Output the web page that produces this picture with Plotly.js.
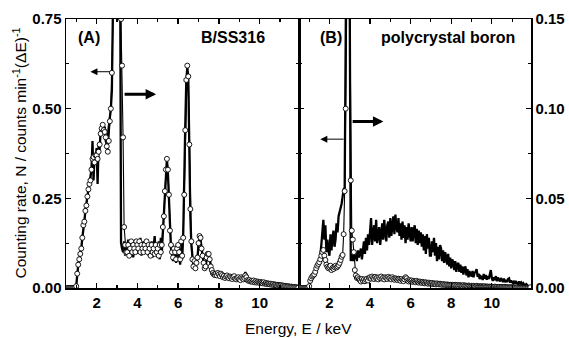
<!DOCTYPE html>
<html>
<head>
<meta charset="utf-8">
<script src="https://cdn.plot.ly/plotly-3.0.1.min.js"></script>
<style>html,body{margin:0;padding:0;background:#fff;}#chart{width:569px;height:338px;}</style>
</head>
<body>
<div id="chart"></div>
<script>
// Energy sampling (keV): first channel and channel width
const E_START = 0.5;
const E_STEP = 0.05;

// Panel A (B/SS316): open circles, left axis (0-0.75)
const circlesA = [
  0,0,0,0,0,0,0,0,0,0,
  0.005,0.04,0.065,0.08,0.095,0.11,0.14,0.175,0.185,0.215,
  0.23,0.255,0.275,0.29,0.30,0.33,0.36,0.365,0.35,0.37,
  0.37,0.36,0.38,0.40,0.43,0.445,0.455,0.44,0.435,0.42,
  0.395,0.38,0.41,0.465,0.50,0.60,0.85,1.05,1.2,1.3,
  1.3,1.2,1.05,0.9,0.75,0.62,0.42,0.17,0.12,0.10,
  0.10,0.12,0.09,0.11,0.13,0.10,0.12,0.11,0.10,0.13,
  0.12,0.11,0.13,0.10,0.12,0.11,0.10,0.12,0.11,0.13,
  0.10,0.12,0.11,0.09,0.12,0.10,0.11,0.095,0.12,0.10,
  0.11,0.09,0.12,0.10,0.12,0.17,0.20,0.27,0.33,0.36,
  0.33,0.26,0.16,0.12,0.10,0.085,0.11,0.10,0.08,0.11,
  0.12,0.10,0.08,0.13,0.09,0.14,0.26,0.44,0.58,0.62,
  0.59,0.40,0.22,0.13,0.08,0.06,0.075,0.055,0.07,0.085,
  0.125,0.145,0.14,0.11,0.09,0.07,0.055,0.06,0.085,0.095,
  0.095,0.08,0.06,0.05,0.042,0.038,0.036,0.04,0.035,0.042,
  0.038,0.033,0.04,0.036,0.03,0.034,0.028,0.032,0.035,0.03,
  0.027,0.032,0.029,0.025,0.03,0.033,0.026,0.024,0.028,0.03,
  0.025,0.022,0.03,0.027,0.024,0.028,0.035,0.03,0.022,0.02,
  0.022,0.018,0.02,0.017,0.021,0.016,0.019,0.015,0.018,0.016,
  0.014,0.017,0.015,0.013,0.016,0.012,0.014,0.011,0.013,0.012,
  0.01,0.012,0.009,0.011,0.008,0.01,0.009,0.007,0.009,0.008,
  0.007,0.008,0.006,0.007,0.005,0.006,0.005,0.004,0.005,0.004,
  0.003,0.004,0.003,0.002,0.003,0.002,0.002,0.001,0.001
];

// Panel A: thick line, right axis (0-0.15)
const lineA = [
  0,0,0,0,0,0,0,0,0,0,
  0.001,0.008,0.013,0.016,0.019,0.022,0.028,0.035,0.037,0.043,
  0.046,0.051,0.055,0.058,0.062,0.066,0.082,0.06,0.074,0.07,
  0.078,0.058,0.08,0.077,0.088,0.09,0.092,0.086,0.09,0.082,
  0.08,0.085,0.09,0.094,0.10,0.11,0.25,0.32,0.33,0.33,
  0.33,0.32,0.30,0.20,0.025,0.022,0.02,0.026,0.018,0.024,
  0.02,0.027,0.018,0.024,0.021,0.026,0.017,0.025,0.022,0.027,
  0.019,0.024,0.021,0.028,0.018,0.023,0.026,0.019,0.024,0.021,
  0.027,0.018,0.023,0.02,0.026,0.017,0.024,0.029,0.019,0.025,
  0.017,0.026,0.016,0.028,0.02,0.03,0.04,0.046,0.062,0.072,
  0.064,0.05,0.03,0.022,0.02,0.015,0.023,0.019,0.014,0.02,
  0.024,0.018,0.013,0.022,0.016,0.03,0.052,0.09,0.115,0.123,
  0.116,0.075,0.04,0.024,0.016,0.012,0.015,0.011,0.014,0.017,
  0.024,0.028,0.027,0.021,0.018,0.014,0.011,0.012,0.017,0.019,
  0.019,0.016,0.012,0.01,0.009,0.008,0.007,0.008,0.007,0.009,
  0.008,0.006,0.008,0.007,0.006,0.007,0.005,0.007,0.007,0.006,
  0.005,0.007,0.006,0.005,0.006,0.007,0.005,0.004,0.006,0.006,
  0.005,0.004,0.006,0.005,0.005,0.006,0.009,0.004,0.004,0.004,
  0.004,0.0035,0.004,0.003,0.004,0.003,0.004,0.003,0.0035,0.003,
  0.003,0.0033,0.003,0.0026,0.0032,0.0024,0.0028,0.0022,0.0026,0.0024,
  0.002,0.0024,0.0018,0.0022,0.0016,0.002,0.0018,0.0014,0.0018,0.0016,
  0.0014,0.0016,0.0012,0.0014,0.001,0.0012,0.001,0.0008,0.001,0.0008,
  0.0006,0.0008,0.0006,0.0004,0.0006,0.0004,0.0004,0.0002,0.0002
];

// Panel B (polycrystal boron): open circles, left axis (0-0.75)
const circlesB = [
  0,0,0,0,0,0,0,0,0,0,
  0.005,0.02,0.027,0.032,0.035,0.038,0.045,0.055,0.062,0.067,
  0.072,0.08,0.09,0.10,0.106,0.09,0.078,0.065,0.059,0.055,
  0.058,0.062,0.05,0.056,0.053,0.058,0.062,0.057,0.06,0.064,
  0.07,0.078,0.087,0.092,0.15,0.27,0.50,0.85,1.05,1.0,
  0.8,0.3,0.16,0.135,0.10,0.05,0.035,0.028,0.03,0.025,
  0.022,0.018,0.025,0.02,0.024,0.019,0.023,0.026,0.021,0.028,
  0.03,0.026,0.032,0.028,0.025,0.031,0.027,0.029,0.024,0.03,
  0.027,0.032,0.026,0.029,0.024,0.03,0.028,0.025,0.031,0.027,
  0.029,0.024,0.03,0.026,0.023,0.027,0.025,0.022,0.026,0.024,
  0.02,0.025,0.022,0.019,0.024,0.03,0.027,0.021,0.018,0.022,
  0.019,0.021,0.017,0.02,0.018,0.016,0.02,0.017,0.015,0.018,
  0.016,0.014,0.017,0.015,0.013,0.016,0.014,0.012,0.015,0.013,
  0.012,0.014,0.011,0.013,0.012,0.01,0.013,0.011,0.01,0.012,
  0.01,0.009,0.011,0.009,0.01,0.008,0.01,0.009,0.008,0.009,
  0.008,0.009,0.007,0.008,0.009,0.007,0.008,0.006,0.008,0.007,
  0.007,0.006,0.008,0.006,0.007,0.006,0.005,0.007,0.006,0.005,
  0.006,0.005,0.006,0.005,0.004,0.006,0.005,0.004,0.005,0.004,
  0.005,0.004,0.004,0.005,0.003,0.004,0.004,0.003,0.004,0.003,
  0.004,0.003,0.003,0.004,0.003,0.003,0.002,0.003,0.003,0.002,
  0.003,0.002,0.002,0.003,0.002,0.002,0.002,0.001,0.002,0.002,
  0.002,0.001,0.002,0.001,0.001,0.002,0.001,0.001,0.001,0.001,
  0.001,0.001,0,0.001,0.001,0,0.001,0,0.002
];

// Panel B: thick line, right axis (0-0.15)
const lineB = [
  0,0,0,0,0,0,0,0,0,0,
  0.001,0.004,0.005,0.0065,0.007,0.0075,0.009,0.011,0.012,0.013,
  0.015,0.018,0.024,0.03,0.038,0.027,0.035,0.02,0.027,0.021,
  0.018,0.03,0.021,0.028,0.032,0.023,0.027,0.036,0.031,0.04,
  0.042,0.045,0.047,0.051,0.055,0.056,0.14,0.25,0.3,0.3,
  0.16,0.015,0.019,0.015,0.021,0.016,0.02,0.015,0.021,0.017,
  0.0195,0.022,0.016,0.023,0.026,0.019,0.028,0.021,0.03,0.024,
  0.031,0.039,0.024,0.03,0.035,0.026,0.038,0.025,0.029,0.034,
  0.024,0.033,0.036,0.027,0.038,0.031,0.026,0.035,0.037,0.028,
  0.039,0.029,0.037,0.04,0.03,0.041,0.034,0.031,0.039,0.029,
  0.036,0.027,0.037,0.028,0.035,0.025,0.034,0.027,0.036,0.029,
  0.026,0.034,0.026,0.032,0.035,0.025,0.033,0.024,0.032,0.025,
  0.031,0.023,0.03,0.021,0.029,0.019,0.03,0.022,0.028,0.018,
  0.018,0.026,0.02,0.028,0.018,0.025,0.015,0.023,0.016,0.024,
  0.022,0.015,0.021,0.014,0.02,0.017,0.013,0.019,0.012,0.017,
  0.011,0.016,0.0145,0.01,0.015,0.009,0.013,0.014,0.009,0.013,
  0.0085,0.012,0.0075,0.011,0.012,0.007,0.0105,0.006,0.0095,0.007,
  0.0068,0.0095,0.006,0.0085,0.009,0.0105,0.0062,0.008,0.005,0.0065,
  0.006,0.0045,0.0078,0.0052,0.0072,0.0046,0.0066,0.005,0.0074,0.01,
  0.0055,0.004,0.006,0.0044,0.0066,0.0038,0.0058,0.0044,0.0036,0.0056,
  0.0042,0.0034,0.0052,0.0032,0.0045,0.0033,0.005,0.0054,0.003,0.0042,
  0.0032,0.0027,0.004,0.0024,0.0034,0.0026,0.0022,0.0036,0.0025,0.0031,
  0.0021,0.0027,0.0017,0.0018,0.0022,0.0013,0.0012,0.0007,0.0005
];

const panelLabels = ['(A)', 'B/SS316', '(B)', 'polycrystal boron'];
const xTitle = 'Energy, E / keV';
const yTitle = 'Counting rate, N / counts min<sup>-1</sup>(ΔE)<sup>-1</sup>';

const FONT = 'Liberation Sans, Arial, Helvetica, sans-serif';
const circleStyle = {
  mode: 'lines+markers',
  line: {color: '#000', width: 1.1},
  marker: {symbol: 'circle', size: 5, color: '#fff', line: {color: '#000', width: 0.9}}
};
const thickStyle = {mode: 'lines', line: {color: '#000', width: 2.3}};

const traces = [
  Object.assign({type: 'scatter', x0: E_START, dx: E_STEP, y: lineA, xaxis: 'x', yaxis: 'y'}, thickStyle),
  Object.assign({type: 'scatter', x0: E_START, dx: E_STEP, y: circlesA, xaxis: 'x', yaxis: 'y2'}, circleStyle),
  Object.assign({type: 'scatter', x0: E_START, dx: E_STEP, y: lineB, xaxis: 'x2', yaxis: 'y3'}, thickStyle),
  Object.assign({type: 'scatter', x0: E_START, dx: E_STEP, y: circlesB, xaxis: 'x2', yaxis: 'y4'}, circleStyle)
];

const tickFont = {family: FONT, size: 15, color: '#000', weight: 'bold'};
const split = 233 / 465;
function xAx(domain, anchor) {
  return {
    domain: domain, anchor: anchor, range: [0.5, 11.93],
    showgrid: false, zeroline: false, showline: true, linecolor: '#000', linewidth: 1.5,
    mirror: 'ticks', ticks: 'inside', ticklen: 5, tickwidth: 1.3, tickcolor: '#000',
    tick0: 0, dtick: 2, tickfont: tickFont,
    minor: {tick0: 0, dtick: 1, ticks: 'inside', ticklen: 3, tickwidth: 1.1, tickcolor: '#000'}
  };
}
function yAx(range, dtick, side, anchor, labels, overlay) {
  const a = {
    range: range, side: side, anchor: anchor,
    showgrid: false, zeroline: false, showline: true, linecolor: '#000', linewidth: 1.5,
    ticks: 'inside', ticklen: 5, tickwidth: 1.3, tickcolor: '#000',
    tick0: 0, dtick: dtick, tickformat: '.2f', showticklabels: labels, tickfont: tickFont,
    minor: {tick0: 0, dtick: dtick / 2, ticks: 'inside', ticklen: 3, tickwidth: 1.1, tickcolor: '#000'}
  };
  if (overlay) a.overlaying = overlay;
  return a;
}

const labelFont = {family: FONT, size: 16, color: '#000', weight: 'bold'};
function arrow(xr, yr, x, y, ax, ay, w, size) {
  return {xref: xr, yref: yr, axref: xr, ayref: yr, x: x, y: y, ax: ax, ay: ay,
          text: '', showarrow: true, arrowhead: 2, arrowsize: size, arrowwidth: w, arrowcolor: '#000'};
}

const layout = {
  width: 569, height: 338,
  margin: {l: 66, r: 38, t: 19, b: 50, pad: 0},
  paper_bgcolor: '#fff', plot_bgcolor: '#fff',
  font: {family: FONT, color: '#000'},
  showlegend: false,
  xaxis: xAx([0, split], 'y'),
  yaxis: yAx([0, 0.15], 0.05, 'right', 'x', false),
  yaxis2: yAx([0, 0.75], 0.25, 'left', 'x', true, 'y'),
  xaxis2: xAx([split, 1], 'y3'),
  yaxis3: yAx([0, 0.15], 0.05, 'right', 'x2', true),
  yaxis4: yAx([0, 0.75], 0.25, 'left', 'x2', false, 'y3'),
  annotations: [
    {xref: 'paper', yref: 'paper', x: 0.0215, y: 0.933, xanchor: 'left', yanchor: 'middle', text: panelLabels[0], showarrow: false, font: labelFont},
    {xref: 'paper', yref: 'paper', x: 0.432, y: 0.933, xanchor: 'right', yanchor: 'middle', text: panelLabels[1], showarrow: false, font: labelFont},
    {xref: 'paper', yref: 'paper', x: 0.542, y: 0.933, xanchor: 'left', yanchor: 'middle', text: panelLabels[2], showarrow: false, font: labelFont},
    {xref: 'paper', yref: 'paper', x: 0.970, y: 0.933, xanchor: 'right', yanchor: 'middle', text: panelLabels[3], showarrow: false, font: labelFont},
    {xref: 'paper', yref: 'paper', x: 0.499, y: -0.149, xanchor: 'center', yanchor: 'middle', text: xTitle, showarrow: false, font: {family: FONT, size: 15.5, color: '#000'}},
    {xref: 'paper', yref: 'paper', x: -0.101, y: 0.5, xanchor: 'center', yanchor: 'middle', textangle: -90, text: yTitle, showarrow: false, font: {family: FONT, size: 15.5, color: '#000'}},
    arrow('x', 'y2', 1.7, 0.603, 2.72, 0.603, 1, 1.4),
    arrow('x', 'y2', 4.92, 0.54, 3.3, 0.54, 3, 0.7),
    arrow('x2', 'y4', 1.55, 0.415, 2.77, 0.415, 1, 1.4),
    arrow('x2', 'y4', 4.66, 0.464, 3.07, 0.464, 3, 0.7)
  ]
};

Plotly.newPlot('chart', traces, layout, {staticPlot: true, displayModeBar: false});
</script>
</body>
</html>
